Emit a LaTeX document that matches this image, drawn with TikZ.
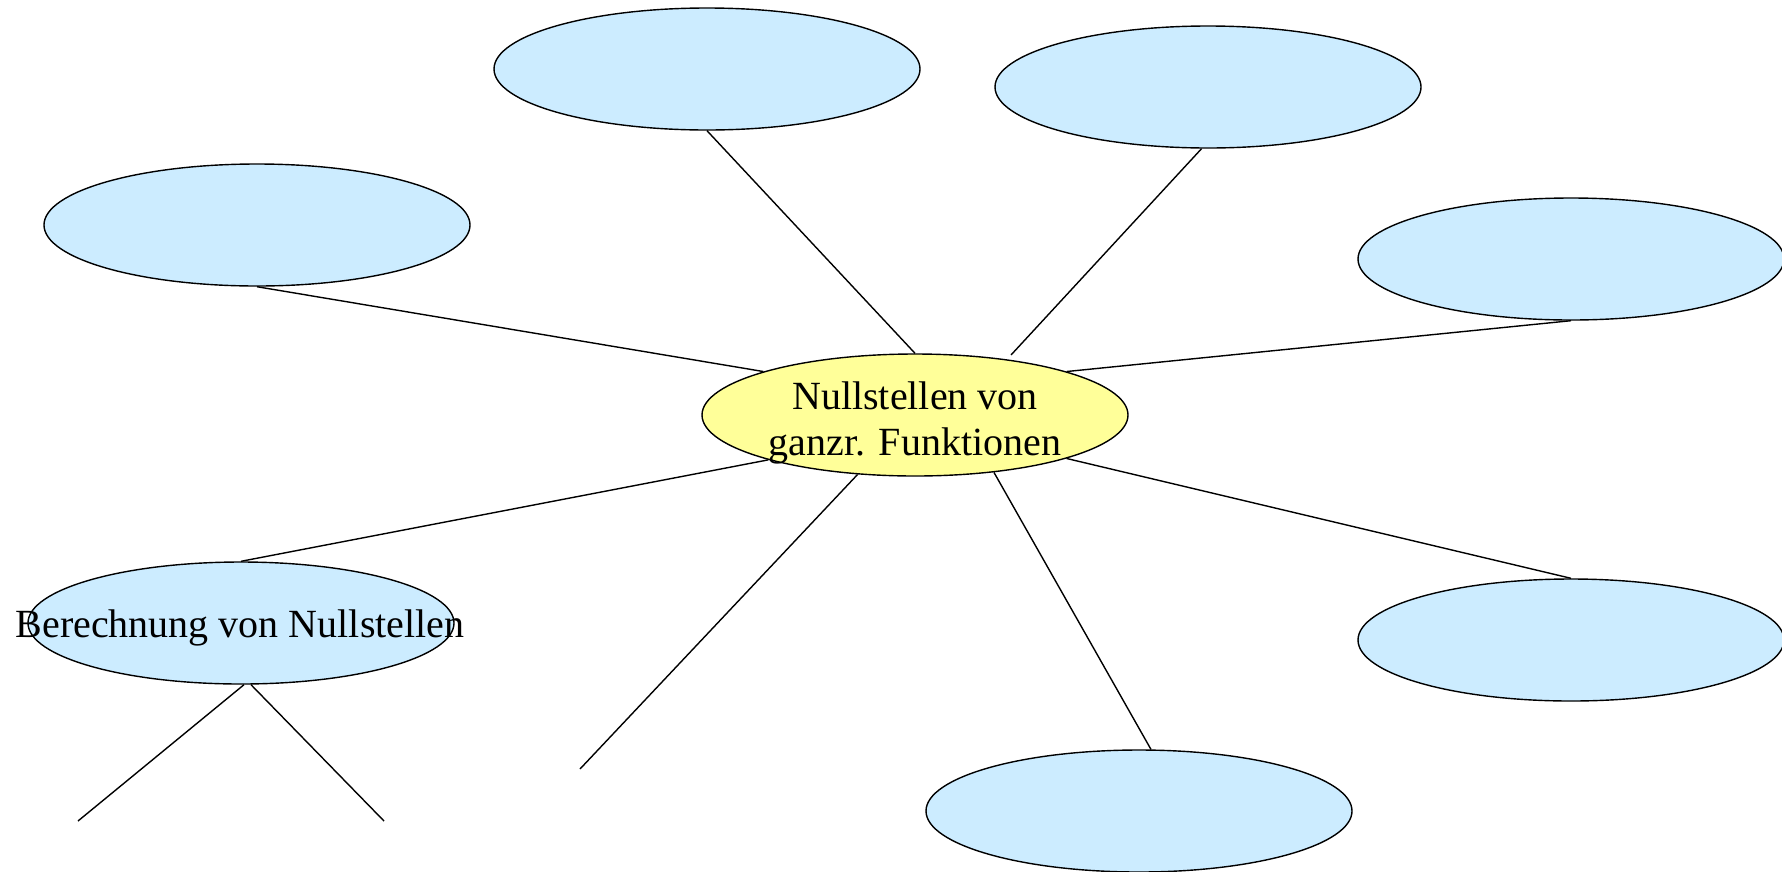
\documentclass[tikz,border=0pt]{standalone}
\usepackage{fontspec}
\setmainfont{Liberation Serif}
\usetikzlibrary{shapes.geometric}
\definecolor{bubble}{RGB}{204,236,255}
\definecolor{hub}{RGB}{255,255,153}
\tikzset{
  topic/.style={ellipse, draw=black, line width=1.4pt, fill=bubble,
    minimum width=426pt, minimum height=122pt, inner sep=0pt},
  core/.style={topic, fill=hub},
  caption/.style={font=\fontsize{40}{46}\selectfont, align=center, inner sep=0pt},
  link/.style={line width=1.4pt}
}
\begin{document}
\begin{tikzpicture}[x=1pt, y=-1pt]
\useasboundingbox (0,0) rectangle (1782,871);

% central topic
\node[core] (M) at (915,415) {};
\node[caption] (Mt) at (915,423) {Nullstellen von\\ganzr. Funktionen};

% surrounding topics
\node[topic] (A) at (707,69) {};
\node[topic] (B) at (1208,87) {};
\node[topic] (C) at (257,225) {};
\node[topic] (D) at (1571,259) {};
\node[topic] (E) at (241,623) {};
\node[caption] (Et) at (240,628) {Berechnung von Nullstellen};
\node[topic] (F) at (1571,640) {};
\node[topic] (G) at (1139,811) {};

% open ends
\coordinate (b1) at (1011,355);
\coordinate (s1) at (580,769);
\coordinate (e1) at (78,821);
\coordinate (e2) at (384,821);

% spokes
\draw[link] (A.south) -- (M.north);
\draw[link] (B.264) -- (b1);
\draw[link] (C.south) -- (M.164);
\draw[link] (D.south) -- (M.16);
\draw[link] (E.north) -- (M.197);
\draw[link] (M.226) -- (s1);
\draw[link] (M.324) -- (G.79);
\draw[link] (M.-16) -- (F.north);
\draw[link] ([xshift=3pt]E.south) -- (e1);
\draw[link] ([xshift=10pt]E.south) -- (e2);
\end{tikzpicture}
\end{document}
